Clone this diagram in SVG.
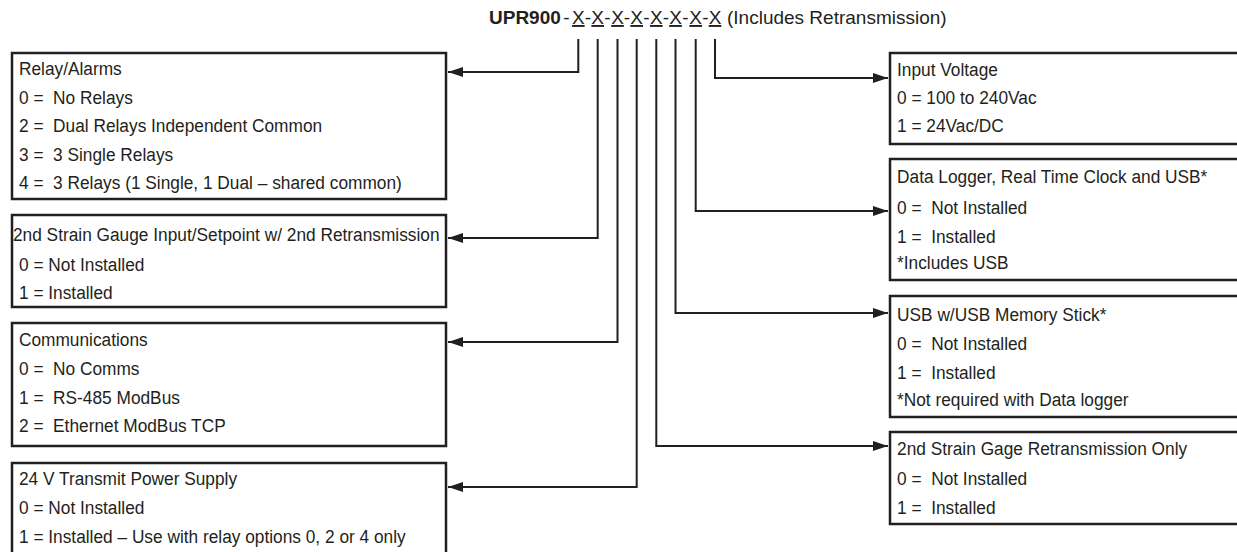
<svg xmlns="http://www.w3.org/2000/svg" width="1237" height="552" viewBox="0 0 1237 552">
<defs>
<style>
.t{font-family:"Liberation Sans",Arial,sans-serif;font-size:18.4px;fill:#231f20}
.tt{font-family:"Liberation Sans",Arial,sans-serif;font-size:19px;fill:#231f20}
.b{fill:#fff;stroke:#231f20;stroke-width:2.5}
.c{fill:none;stroke:#231f20;stroke-width:2}
</style>
<marker id="ah" markerUnits="userSpaceOnUse" markerWidth="16" markerHeight="12" refX="15" refY="5" orient="auto">
<path d="M0,0 L15,5 L0,10 z" fill="#231f20"/>
</marker>
</defs>
<rect width="1237" height="552" fill="#fff"/>
<g id="title">
<text class="tt" x="489" y="24"><tspan font-weight="bold">UPR900</tspan></text>
<text class="tt" y="24" text-anchor="middle"><tspan x="566.5">-</tspan><tspan x="588">-</tspan><tspan x="607.5">-</tspan><tspan x="627">-</tspan><tspan x="646.5">-</tspan><tspan x="666">-</tspan><tspan x="685.5">-</tspan><tspan x="705.5">-</tspan></text>
<text class="tt" y="24" text-anchor="middle" text-decoration="underline"><tspan x="578.3">X</tspan><tspan x="597.7">X</tspan><tspan x="617.5">X</tspan><tspan x="636.7">X</tspan><tspan x="656.3">X</tspan><tspan x="675.5">X</tspan><tspan x="695.7">X</tspan><tspan x="715">X</tspan></text>
<text class="tt" x="727" y="24">(Includes Retransmission)</text>
</g>
<g id="connectors">
<polyline class="c" points="578.3,39 578.3,72 448,72" marker-end="url(#ah)"/>
<polyline class="c" points="597.7,39 597.7,238 448,238" marker-end="url(#ah)"/>
<polyline class="c" points="617.5,39 617.5,342 448,342" marker-end="url(#ah)"/>
<polyline class="c" points="636.7,39 636.7,487 448,487" marker-end="url(#ah)"/>
<polyline class="c" points="656.3,39 656.3,446 888,446" marker-end="url(#ah)"/>
<polyline class="c" points="675.5,39 675.5,313 888,313" marker-end="url(#ah)"/>
<polyline class="c" points="695.7,39 695.7,211 888,211" marker-end="url(#ah)"/>
<polyline class="c" points="715,39 715,78 888,78" marker-end="url(#ah)"/>
</g>
<g id="relay">
<rect class="b" x="12" y="53" width="434" height="146"/>
<g transform="scale(0.94,1)">
<text class="t" x="20.2" y="75">Relay/Alarms</text>
<text class="t" x="20.2" y="103.6">0 =&#160; No Relays</text>
<text class="t" x="20.2" y="132.2">2 =&#160; Dual Relays Independent Common</text>
<text class="t" x="20.2" y="160.8">3 =&#160; 3 Single Relays</text>
<text class="t" x="20.2" y="189.4">4 =&#160; 3 Relays (1 Single, 1 Dual – shared common)</text>
</g>
</g>
<g id="strain2">
<rect class="b" x="12" y="215" width="434" height="92"/>
<g transform="scale(0.94,1)">
<text class="t" x="13.8" y="241">2nd Strain Gauge Input/Setpoint w/ 2nd Retransmission</text>
<text class="t" x="20.2" y="271">0 = Not Installed</text>
<text class="t" x="20.2" y="299">1 = Installed</text>
</g>
</g>
<g id="comms">
<rect class="b" x="12" y="323" width="434" height="123"/>
<g transform="scale(0.94,1)">
<text class="t" x="20.2" y="346">Communications</text>
<text class="t" x="20.2" y="375">0 =&#160; No Comms</text>
<text class="t" x="20.2" y="404">1 =&#160; RS-485 ModBus</text>
<text class="t" x="20.2" y="432">2 =&#160; Ethernet ModBus TCP</text>
</g>
</g>
<g id="power">
<rect class="b" x="12" y="463" width="434" height="100"/>
<g transform="scale(0.94,1)">
<text class="t" x="20.2" y="485">24 V Transmit Power Supply</text>
<text class="t" x="20.2" y="514">0 = Not Installed</text>
<text class="t" x="20.2" y="543">1 = Installed – Use with relay options 0, 2 or 4 only</text>
</g>
</g>
<g id="input">
<rect class="b" x="890" y="53" width="360" height="91"/>
<g transform="scale(0.94,1)">
<text class="t" x="954.3" y="76">Input Voltage</text>
<text class="t" x="954.3" y="104">0 = 100 to 240Vac</text>
<text class="t" x="954.3" y="132">1 = 24Vac/DC</text>
</g>
</g>
<g id="logger">
<rect class="b" x="890" y="159" width="360" height="121"/>
<g transform="scale(0.94,1)">
<text class="t" x="954.3" y="183">Data Logger, Real Time Clock and USB*</text>
<text class="t" x="954.3" y="214">0 =&#160; Not Installed</text>
<text class="t" x="954.3" y="243">1 =&#160; Installed</text>
<text class="t" x="954.3" y="269">*Includes USB</text>
</g>
</g>
<g id="usb">
<rect class="b" x="890" y="296" width="360" height="121"/>
<g transform="scale(0.94,1)">
<text class="t" x="954.3" y="321">USB w/USB Memory Stick*</text>
<text class="t" x="954.3" y="350">0 =&#160; Not Installed</text>
<text class="t" x="954.3" y="379">1 =&#160; Installed</text>
<text class="t" x="954.3" y="406">*Not required with Data logger</text>
</g>
</g>
<g id="retrans">
<rect class="b" x="890" y="432" width="360" height="92"/>
<g transform="scale(0.94,1)">
<text class="t" x="954.3" y="455">2nd Strain Gage Retransmission Only</text>
<text class="t" x="954.3" y="485">0 =&#160; Not Installed</text>
<text class="t" x="954.3" y="514">1 =&#160; Installed</text>
</g>
</g>
</svg>
